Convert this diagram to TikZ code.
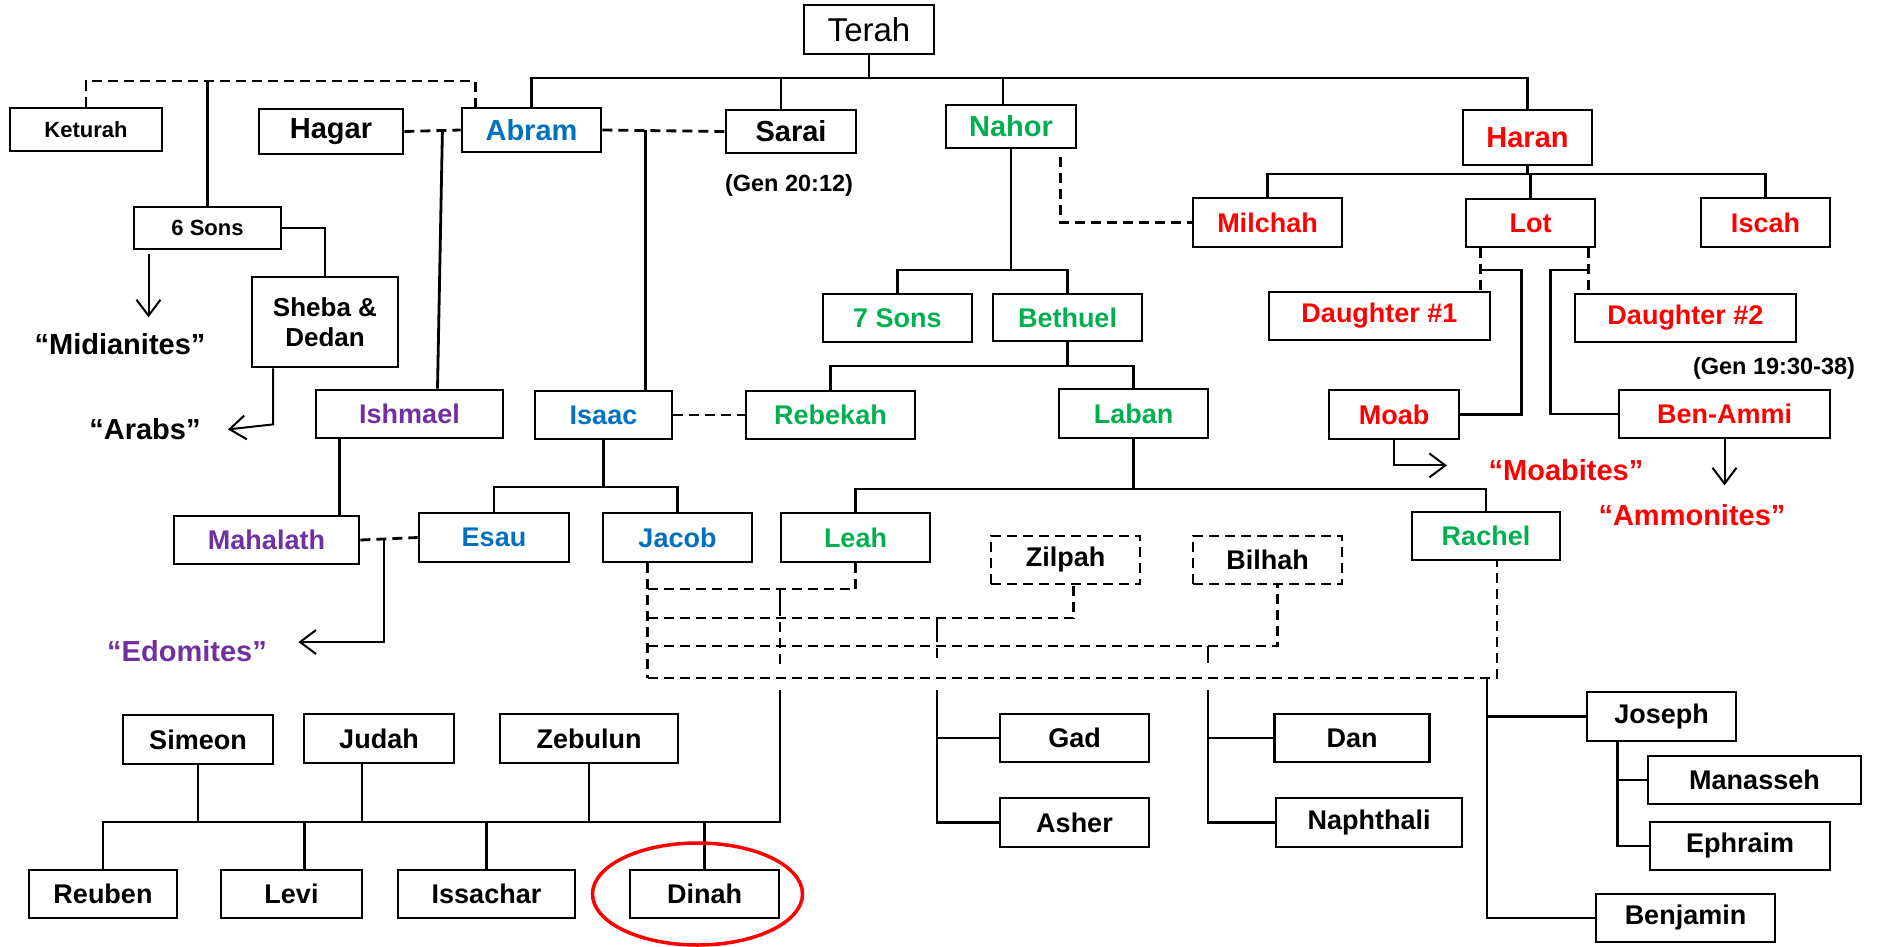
\documentclass[tikz,border=0pt]{standalone}
\usepackage{fontspec}
\setmainfont{Liberation Sans}
\usetikzlibrary{arrows.meta}
\definecolor{ablue}{RGB}{0,112,192}
\definecolor{ngreen}{RGB}{0,176,80}
\definecolor{hred}{RGB}{255,0,0}
\definecolor{ipurple}{RGB}{112,48,160}
\tikzset{box/.style 2 args={draw, minimum width=#1, minimum height=#2, inner sep=0,
                            font=\fontsize{27}{30}\selectfont\bfseries},
         big/.style={font=\fontsize{29}{32}\selectfont\bfseries},
         small/.style={font=\fontsize{22}{24}\selectfont\bfseries},
         note/.style={font=\fontsize{23.5}{26}\selectfont\bfseries, inner sep=0},
         people/.style={font=\fontsize{29}{32}\selectfont\bfseries, inner sep=0},
         tie/.style={dash pattern=on 10pt off 6pt},
         descent/.style={line width=2, -{Straight Barb[length=16pt, width=24pt]}}}

\begin{document}
\begin{tikzpicture}[x=1pt, y=-1pt, line width=2.8]
    \useasboundingbox (0,0) rectangle (1877,946);

    % top generations
    \node[box={130}{49}, font=\fontsize{33}{36}\selectfont] (terah) at (869,29.5) {Terah};
    \node[box={152}{43}, small] (keturah) at (86,129.5) {Keturah};
    \node[box={144}{45}, big] (hagar) at (331,131.5) {Hagar};
    \node[box={139}{44}, big, text=ablue] (abram) at (531.5,130) {Abram};
    \node[box={130}{43}, big] (sarai) at (791,131.5) {Sarai};
    \node[note] (gen1) at (789,185) {(Gen 20:12)};
    \node[box={130}{43}, big, text=ngreen] (nahor) at (1011,126.5) {Nahor};
    \node[box={129}{55}, big, text=hred] (haran) at (1527.5,137.5) {Haran};
    \node[box={149}{49}, text=hred] (milchah) at (1267.5,222.5) {Milchah};
    \node[box={129}{48}, text=hred] (lot) at (1530.5,223) {Lot};
    \node[box={129}{49}, text=hred] (iscah) at (1765.5,222.5) {Iscah};
    \node[box={147}{42}, small] (sixsons) at (207.5,228) {6 Sons};
    \node[box={146}{90}, align=center, font=\fontsize{26}{30}\selectfont\bfseries] (sheba) at (325,322) {Sheba \&\\Dedan};
    \node[people] (midianites) at (120,344) {“Midianites”};
    \node[people] (arabs) at (145,429) {“Arabs”};
    \node[box={149}{48}, text=ngreen] (sevensons) at (897.5,318) {7 Sons};
    \node[box={149}{47}, text=ngreen] (bethuel) at (1067.5,317.5) {Bethuel};
    \node[box={221}{48}, text=hred] (daughter1) at (1379.5,316) {Daughter \#1};
    \node[box={221}{48}, text=hred] (daughter2) at (1685.5,318) {Daughter \#2};
    \node[note] (gen2) at (1774,368) {(Gen 19:30-38)};
    \node[box={187}{48}, text=ipurple] (ishmael) at (409.5,414) {Ishmael};
    \node[box={137}{48}, text=ablue] (isaac) at (603.5,415) {Isaac};
    \node[box={169}{48}, text=ngreen] (rebekah) at (830.5,415) {Rebekah};
    \node[box={149}{49}, text=ngreen] (laban) at (1133.5,413.5) {Laban};
    \node[box={130}{49}, text=hred] (moab) at (1394,414.5) {Moab};
    \node[box={211}{48}, text=hred] (benammi) at (1724.5,414) {Ben-Ammi};
    \node[people, text=hred] (moabites) at (1566,470) {“Moabites”};
    \node[people, text=hred] (ammonites) at (1692,515) {“Ammonites”};
    \node[box={185}{48}, text=ipurple] (mahalath) at (266.5,540) {Mahalath};
    \node[box={150}{49}, text=ablue] (esau) at (494,537.5) {Esau};
    \node[box={149}{49}, text=ablue] (jacob) at (677.5,537.5) {Jacob};
    \node[box={149}{49}, text=ngreen] (leah) at (855.5,537.5) {Leah};
    \node[box={148}{48}, text=ngreen] (rachel) at (1486,536) {Rachel};
    \node[box={149}{48}, tie] (zilpah) at (1065.5,560) {Zilpah};
    \node[box={149}{48}, tie] (bilhah) at (1267.5,560) {Bilhah};
    \node[people, text=ipurple] (edomites) at (187,651) {“Edomites”};

    % sons of Jacob
    \node[box={150}{49}] (simeon) at (198,739.5) {Simeon};
    \node[box={150}{49}] (judah) at (379,738.5) {Judah};
    \node[box={178}{49}] (zebulun) at (589,738.5) {Zebulun};
    \node[box={148}{48}] (reuben) at (103,894) {Reuben};
    \node[box={141}{48}] (levi) at (291.5,894) {Levi};
    \node[box={177}{48}] (issachar) at (486.5,894) {Issachar};
    \node[box={149}{48}] (dinah) at (704.5,894) {Dinah};
    \node[box={149}{48}] (gad) at (1074.5,738) {Gad};
    \node[box={149}{49}] (asher) at (1074.5,822.5) {Asher};
    \node[box={155}{48}] (dan) at (1352,738) {Dan};
    \node[box={186}{49}] (naphthali) at (1369,822.5) {Naphthali};
    \node[box={149}{49}] (joseph) at (1661.5,716.5) {Joseph};
    \node[box={213}{48}] (manasseh) at (1754.5,780) {Manasseh};
    \node[box={180}{48}] (ephraim) at (1740,846) {Ephraim};
    \node[box={179}{48}] (benjamin) at (1685.5,918) {Benjamin};

    % Terah's children
    \coordinate (tbar) at (0,78);
    \coordinate (saraitop) at ([xshift=-10]sarai.north);
    \coordinate (nahortop) at ([xshift=-8]nahor.north);
    \draw (terah.south) -- (terah.south |- tbar);
    \draw (abram.north) -- (abram.north |- tbar) -| (haran.north);
    \draw (saraitop) -- (saraitop |- tbar);
    \draw (nahortop) -- (nahortop |- tbar);

    % Abram's wives and sons
    \coordinate (kbar) at (0,81);
    \coordinate (abramleft) at ([xshift=15]abram.north west);
    \draw[tie] (keturah.north) -- (keturah.north |- kbar) -| (abramleft);
    \draw (sixsons.north) -- (sixsons.north |- kbar);
    \draw (sixsons.east) -| (sheba.north);
    \draw[descent] ([xshift=-59,yshift=-4]sixsons.south) -- ++(0,63);
    \draw[descent] ([xshift=-52]sheba.south) -- ++(0,56) -- ++(-45,5);
    \draw[tie] (hagar.east) -- (abram.west);
    \draw ([xshift=38]hagar.east) -- ([xshift=28]ishmael.north);
    \draw[tie] (abram.east) -- (sarai.west);
    \coordinate (isaacline) at ([xshift=43]abram.east);
    \draw (isaacline) -- (isaacline |- isaac.north);
    \draw[tie] (isaac.east) -- (rebekah.west);
    \coordinate (ishline) at ([xshift=-70]ishmael.south);
    \draw (ishline) -- (ishline |- mahalath.north);
    \draw[tie] (mahalath.east) -- (esau.west);
    \draw[descent] ([xshift=24]mahalath.east) -- ++(0,102) -- ++(-86,0);

    % Isaac's children
    \coordinate (ibar) at (0,487);
    \draw (isaac.south) -- (isaac.south |- ibar);
    \draw (esau.north) |- (ibar -| jacob.north) -- (jacob.north);

    % Nahor
    \coordinate (nbar) at (0,270);
    \draw (nahor.south) -- (nahor.south |- nbar);
    \draw (sevensons.north) |- (nbar -| bethuel.north) -- (bethuel.north);
    \coordinate (nahortie) at ([xshift=-17,yshift=-8]nahor.south east);
    \draw[tie] (nahortie) |- (milchah.west);

    % Haran and Lot
    \coordinate (hbar) at (0,174);
    \draw (haran.south) -- (haran.south |- hbar);
    \draw (milchah.north) |- (hbar -| iscah.north) -- (iscah.north);
    \draw (lot.north) -- (lot.north |- hbar);
    \coordinate (lotleft) at ([xshift=16]lot.south west);
    \coordinate (lotright) at ([xshift=-8]lot.south east);
    \draw[tie] (lotleft) -- (lotleft |- daughter1.north);
    \draw[tie] (lotright) -- (lotright |- daughter2.north);
    \coordinate (moabline) at ([xshift=61]moab.east);
    \coordinate (benline) at ([xshift=-67]benammi.west);
    \draw (lotleft |- nbar) -| (moabline) -- (moab.east);
    \draw (lotright |- nbar) -| (benline) -- (benammi.west);
    \draw[descent] (moab.south) -- ++(0,25) -- ++(53,0);
    \draw[descent] (benammi.south) -- ++(0,46);

    % Bethuel and Laban
    \coordinate (bbar) at (0,366);
    \draw (bethuel.south) -- (bethuel.south |- bbar);
    \draw (rebekah.north) |- (bbar -| laban.north) -- (laban.north);
    \coordinate (lbar) at (0,489);
    \draw (laban.south) -- (laban.south |- lbar);
    \draw (leah.north) |- (lbar -| rachel.north) -- (rachel.north);

    % Jacob's wives
    \coordinate (jd) at ([xshift=46]jacob.south west);
    \coordinate (wa) at (0,589);
    \coordinate (wb) at (0,618);
    \coordinate (wc) at (0,646);
    \coordinate (wd) at (0,678);
    \coordinate (zt) at ([xshift=8]zilpah.south);
    \coordinate (bt) at ([xshift=10]bilhah.south);
    \coordinate (rt) at ([xshift=11]rachel.south);
    \draw[tie] (jd) -- (jd |- wd);
    \draw[tie] (jd |- wa) -| (leah.south);
    \draw[tie] (jd |- wb) -| (zt);
    \draw[tie] (jd |- wc) -| (bt);
    \draw[tie] (jd |- wd) -| (rt);

    \coordinate (leahkids) at (780,690);
    \coordinate (zilpahkids) at (937,690);
    \coordinate (bilhahkids) at (1208,690);
    \coordinate (rachelkids) at (1487,678);
    \draw (leahkids |- wa) -- ++(0,17);
    \draw[tie] (leahkids |- wa) ++(0,17) -- ++(0,59);
    \draw (zilpahkids |- wb) -- ++(0,14);
    \draw[tie] (zilpahkids |- wb) ++(0,14) -- ++(0,30);
    \draw (bilhahkids |- wc) -- ++(0,17);

    % Leah's children
    \coordinate (sbar) at (0,822);
    \coordinate (judahline) at ([xshift=-17]judah.south);
    \coordinate (leviline) at ([xshift=13]levi.north);
    \draw (leahkids) |- (reuben.north |- sbar) -- (reuben.north);
    \draw (simeon.south) -- (simeon.south |- sbar);
    \draw (judahline) -- (judahline |- sbar);
    \draw (zebulun.south) -- (zebulun.south |- sbar);
    \draw (leviline) -- (leviline |- sbar);
    \draw (issachar.north) -- (issachar.north |- sbar);
    \draw (dinah.north) -- (dinah.north |- sbar);
    \draw[hred, line width=3.5] ([xshift=-7]dinah.center) ellipse [x radius=105, y radius=51];

    % sons of Zilpah, Bilhah and Rachel
    \draw (zilpahkids) |- (asher.west);
    \draw (zilpahkids |- gad.west) -- (gad.west);
    \draw (bilhahkids) |- (naphthali.west);
    \draw (bilhahkids |- dan.west) -- (dan.west);
    \draw (rachelkids) |- (benjamin.west);
    \draw (rachelkids |- joseph.west) -- (joseph.west);
    \coordinate (josephline) at ([xshift=32]joseph.south west);
    \draw (josephline) |- (ephraim.west);
    \draw (josephline |- manasseh.west) -- (manasseh.west);
  \end{tikzpicture}
\end{document}
